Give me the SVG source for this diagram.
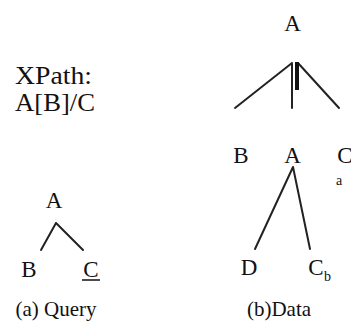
<svg xmlns="http://www.w3.org/2000/svg" width="351" height="323" viewBox="0 0 351 323" font-family="'Liberation Serif', 'DejaVu Serif', serif">
  <style>
    text { fill: #111; }
    .lbl { font-size: 23px; text-anchor: middle; }
    .big { font-size: 25px; }
    .cap { font-size: 21px; text-anchor: middle; }
    .sub { font-size: 14px; }
    .edge { stroke: #222; stroke-width: 2; fill: none; stroke-linecap: round; }
  </style>
  <rect width="351" height="323" fill="#fff"/>

  <g id="xpath">
    <text class="big" x="15" y="84" textLength="77" lengthAdjust="spacingAndGlyphs">XPath:</text>
    <text class="big" x="15" y="111" textLength="80" lengthAdjust="spacingAndGlyphs">A[B]/C</text>
  </g>

  <!-- query tree -->
  <g id="connectors-query">
    <path class="edge" d="M56 223 L41 250 M56 223 L83 250"/>
  </g>
  <g id="q-A"><text class="lbl" x="54" y="208">A</text></g>
  <g id="q-B"><text class="lbl" x="29" y="277">B</text></g>
  <g id="q-C">
    <text class="lbl" x="91" y="277">C</text>
    <line x1="82" y1="280" x2="100" y2="280" stroke="#111" stroke-width="1.5"/>
  </g>
  <g id="cap-a"><text class="cap" x="56" y="316">(a) Query</text></g>

  <!-- data tree -->
  <g id="connectors-data">
    <path class="edge" d="M292 63 L235 108 M292 63 L292 108 M298 63 L339 108"/>
    <rect x="295" y="62" width="4" height="28" fill="#111"/>
    <path class="edge" d="M293 167 L255 249 M293 167 L310 249"/>
  </g>
  <g id="d-A"><text class="lbl" x="292.5" y="31">A</text></g>
  <g id="d-B"><text class="lbl" x="241" y="163">B</text></g>
  <g id="d-A2"><text class="lbl" x="292.5" y="163">A</text></g>
  <g id="d-C">
    <text class="lbl" x="345" y="163">C</text>
    <text class="sub" x="336" y="185">a</text>
  </g>
  <g id="d-D"><text class="lbl" x="249" y="275">D</text></g>
  <g id="d-Cb">
    <text class="lbl" x="316" y="275">C</text>
    <text class="sub" x="324" y="281">b</text>
  </g>
  <g id="cap-b"><text class="cap" x="279" y="316">(b)Data</text></g>
</svg>
